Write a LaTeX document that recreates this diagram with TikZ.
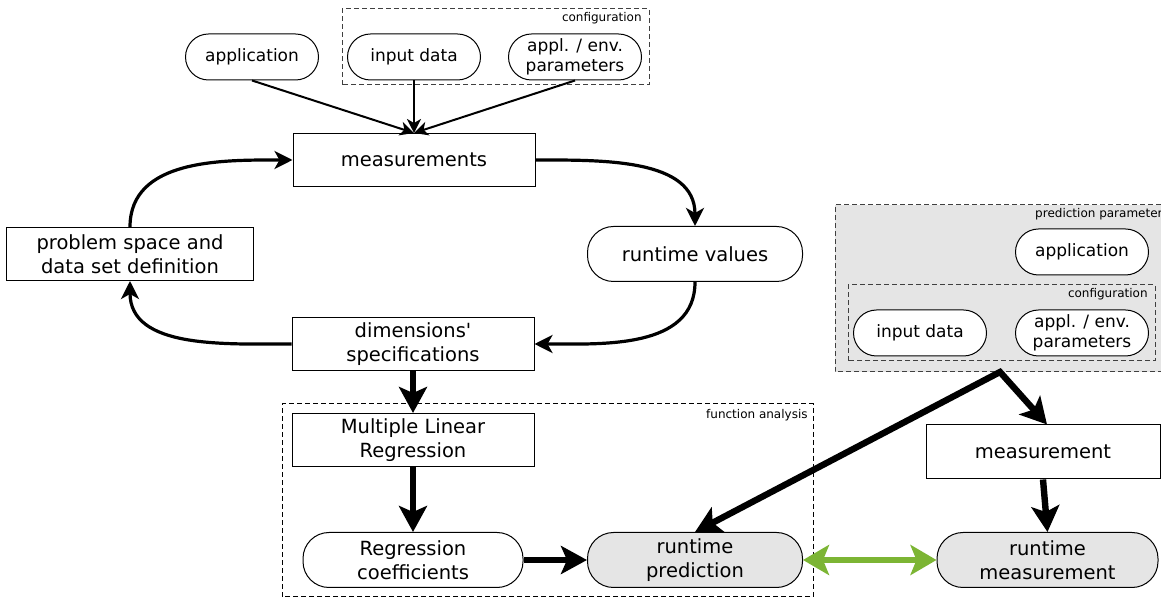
\documentclass[tikz,border=0pt]{standalone}
\usepackage{fontspec}
\setmainfont{DejaVu Sans}
\usetikzlibrary{arrows.meta}
\definecolor{boxgray}{RGB}{229,229,229}
\definecolor{matchgreen}{RGB}{124,181,52}

\begin{document}
\begin{tikzpicture}[x=0.5pt,y=0.5pt]
\tikzstyle{every node}=[font=\fontsize{9.75}{12}\selectfont, align=center, inner sep=0pt]
\tikzstyle{stepbox}=[draw, line width=0.5pt, fill=white, minimum width=121pt, minimum height=26.5pt]
\tikzstyle{databox}=[draw, line width=0.5pt, fill=white, rounded corners=11.5pt, minimum width=66.5pt, minimum height=23pt, font=\fontsize{8.5}{10}\selectfont]
\tikzstyle{resultbox}=[draw, line width=0.5pt, rounded corners=13pt, minimum height=27.5pt]
\tikzstyle{grouplabel}=[anchor=east, font=\fontsize{6}{7}\selectfont]
\tikzstyle{groupline}=[line width=0.5pt, dash pattern=on 2.5pt off 1.5pt]
\tikzstyle{thinarrow}=[line width=1pt, -{Stealth[length=7pt, width=7pt, inset=2pt]}]
\tikzstyle{looparrow}=[line width=1.6pt, -{Stealth[length=9pt, width=9pt, inset=2.5pt]}]
\tikzstyle{bigarrow}=[line width=3.2pt, -{Stealth[length=13pt, width=14pt, inset=3pt]}]
\useasboundingbox (0,0) rectangle (1161,599);

% groups
\draw[groupline, darkgray] (342,514) rectangle (649,590);
\node[grouplabel] (cfgtop) at (642,581) {configuration};
\draw[groupline] (282,2) rectangle (813,195);
\node[grouplabel] (fatext) at (808,184) {function analysis};
\fill[boxgray] (835,227) rectangle (1161,394);
\draw[groupline, darkgray] (1161,394) -- (835,394) -- (835,227) -- (1161,227);
\node[grouplabel, anchor=east] (pptext) at (1163,385) {prediction parameter};
\draw[groupline, darkgray] (848,238) rectangle (1155,314);
\node[grouplabel] (cfgright) at (1148,305) {configuration};

% input nodes
\node[databox] (app) at (252,542) {application};
\node[databox] (indata) at (414,542) {input data};
\node[databox] (param) at (575,542) {appl. / env.\\parameters};
\node[databox] (app2) at (1082,347) {application};
\node[databox] (indata2) at (920,266) {input data};
\node[databox] (param2) at (1082,266) {appl. / env.\\parameters};

% cycle
\node[stepbox] (meas) at (414,439) {measurements};
\node[resultbox, fill=white, minimum width=107.5pt] (rtvalues) at (695,345) {runtime values};
\node[stepbox] (dims) at (413,255) {dimensions\textquotesingle\\specifications};
\node[stepbox, minimum width=123.5pt] (problem) at (130,345) {problem space and\\data set definition};

% analysis
\node[stepbox] (mlr) at (413,159) {Multiple Linear\\Regression};
\node[resultbox, fill=white, minimum width=110pt] (coef) at (413,39) {Regression\\coefficients};
\node[resultbox, fill=boxgray, minimum width=107.5pt] (rtpred) at (695,39) {runtime\\prediction};
\node[stepbox, minimum width=117pt, minimum height=27pt] (measure) at (1043,147) {measurement};
\node[resultbox, fill=boxgray, minimum width=110.5pt] (rtmeas) at (1047.5,39) {runtime\\measurement};
\coordinate (split) at (1000,227);

\draw[thinarrow] (app.south) -- (meas.north);
\draw[thinarrow] (indata.south) -- (meas.north);
\draw[thinarrow] (param.south) -- (meas.north);
\draw[looparrow] (meas.east) to[out=0, in=90] (rtvalues.north);
\draw[looparrow] (rtvalues.south) to[out=-90, in=0] (dims.east);
\draw[looparrow] (dims.west) to[out=180, in=-90] (problem.south);
\draw[looparrow] (problem.north) to[out=90, in=180] (meas.west);
\draw[bigarrow] (dims.south) -- (mlr.north);
\draw[bigarrow] (mlr.south) -- (coef.north);
\draw[bigarrow] (coef.east) -- (rtpred.west);
\draw[bigarrow, {Stealth[length=13pt, width=14pt, inset=3pt]}-{Stealth[length=13pt, width=14pt, inset=3pt]}] (rtpred.north) -- (split) -- ([xshift=2pt]measure.north);
\draw[bigarrow] (measure.south) -- (rtmeas.north);
\draw[bigarrow, matchgreen, line width=3pt, {Stealth[length=13pt, width=15pt, inset=3pt]}-{Stealth[length=13pt, width=15pt, inset=3pt]}] (rtpred.east) -- (rtmeas.west);
\end{tikzpicture}
\end{document}
